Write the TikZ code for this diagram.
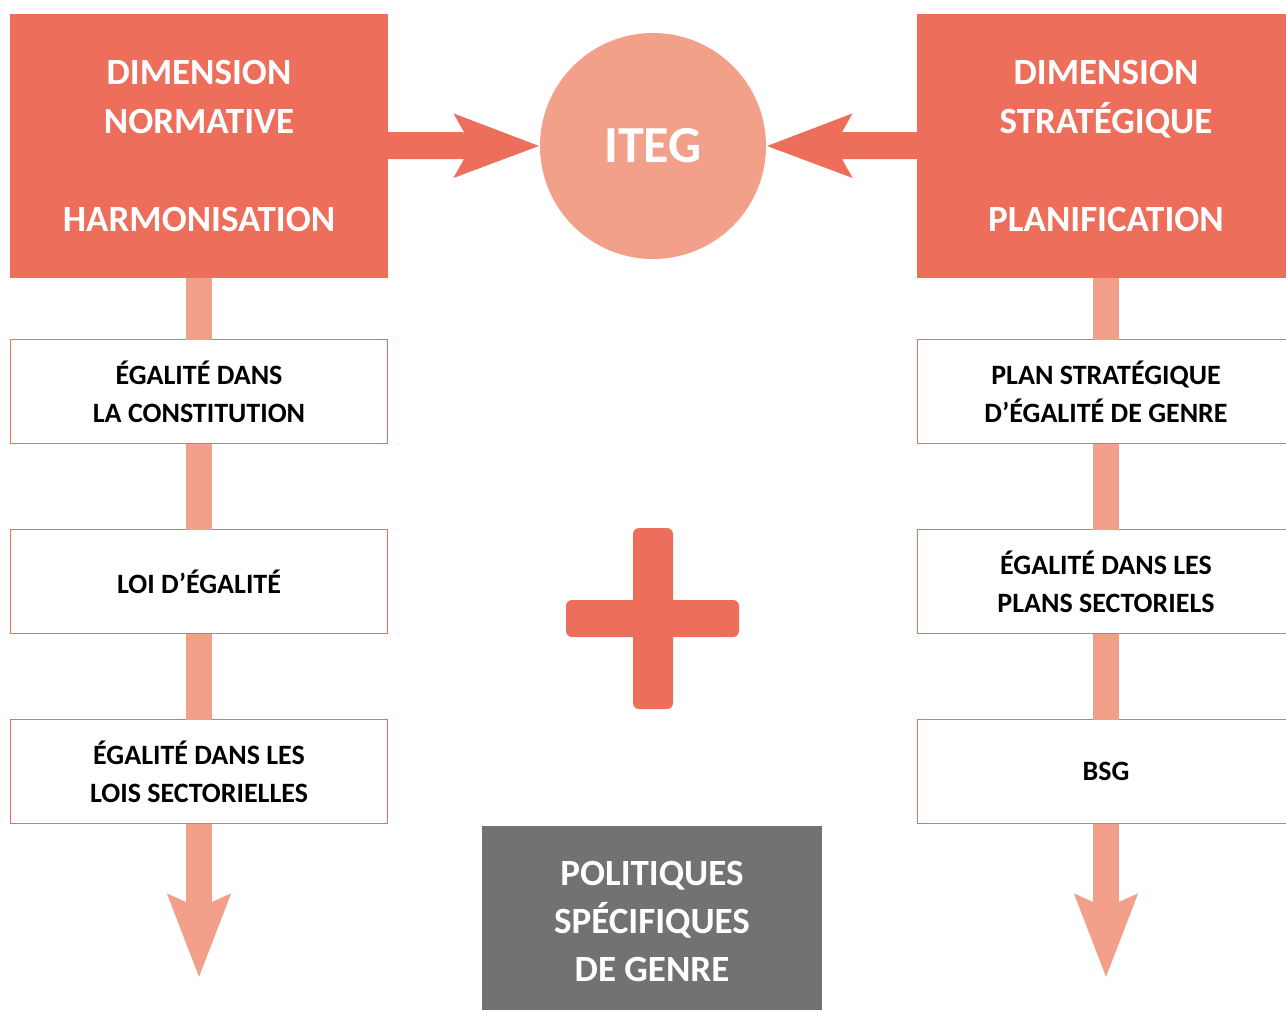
\documentclass[tikz,border=0pt]{standalone}
\usepackage{fontspec}
\setmainfont{Carlito}
\usetikzlibrary{arrows.meta,positioning}
\definecolor{myred}{RGB}{236,110,91}
\definecolor{mysalmon}{RGB}{242,160,138}
\definecolor{mygray}{RGB}{114,114,114}

\begin{document}
\begin{tikzpicture}[x=1pt, y=-1pt,
    headbox/.style={fill=myred, text=white, minimum width=378pt, minimum height=264pt, align=center, font=\fontsize{37}{49}\selectfont\bfseries},
    stepbox/.style={draw=myred, line width=1.2pt, outer sep=0pt, fill=white, minimum width=377pt, minimum height=104pt, align=center, font=\fontsize{28}{38}\selectfont\bfseries},
    bar/.style={mysalmon, line width=26pt},
    bigarrow/.style={myred, line width=27pt, -{Stealth[length=84pt, width=61pt, inset=16pt]}},
    downarrow/.style={mysalmon, line width=26pt, -{Stealth[length=82pt, width=60pt, inset=12pt]}}]
  \useasboundingbox (0,0) rectangle (1286,1010);
  % top row
  \node[headbox] (norm) at (199,145.5) {DIMENSION\\NORMATIVE\\[49pt]HARMONISATION};
  \node[headbox] (strat) at (1106,145.5) {DIMENSION\\STRATÉGIQUE\\[49pt]PLANIFICATION};
  \node[circle, fill=mysalmon, text=white, minimum size=226pt, font=\fontsize{52}{60}\selectfont\bfseries] (iteg) at (653,146) {ITEG};
  % left column
  \node[stepbox, below=62pt of norm] (n1) {ÉGALITÉ DANS\\LA CONSTITUTION};
  \node[stepbox, below=86pt of n1] (n2) {LOI D’ÉGALITÉ};
  \node[stepbox, below=86pt of n2] (n3) {ÉGALITÉ DANS LES\\LOIS SECTORIELLES};
  % right column
  \node[stepbox, below=62pt of strat] (s1) {PLAN STRATÉGIQUE\\D’ÉGALITÉ DE GENRE};
  \node[stepbox, below=86pt of s1] (s2) {ÉGALITÉ DANS LES\\PLANS SECTORIELS};
  \node[stepbox, below=86pt of s2] (s3) {BSG};
  % bottom
  \node[fill=mygray, text=white, minimum width=340pt, minimum height=190pt, align=center, font=\fontsize{37}{48}\selectfont\bfseries] (pol) at (652,921) {POLITIQUES\\SPÉCIFIQUES\\DE GENRE};
  \coordinate (nend) at (199,978);
  \coordinate (send) at (1106,978);
  % connectors
  \foreach \a/\b in {norm/n1,n1/n2,n2/n3,strat/s1,s1/s2,s2/s3}
    \draw[bar] (\a.south) -- (\b.north);
  \draw[downarrow] (n3.south) -- (nend);
  \draw[downarrow] (s3.south) -- (send);
  \draw[bigarrow] (norm.east) -- (iteg.west);
  \draw[bigarrow] (strat.west) -- (iteg.east);
  % plus sign
  \fill[myred, rounded corners=6pt] (633,528) rectangle (673,709);
  \fill[myred, rounded corners=6pt] (566,600) rectangle (739,637);
\end{tikzpicture}
\end{document}
